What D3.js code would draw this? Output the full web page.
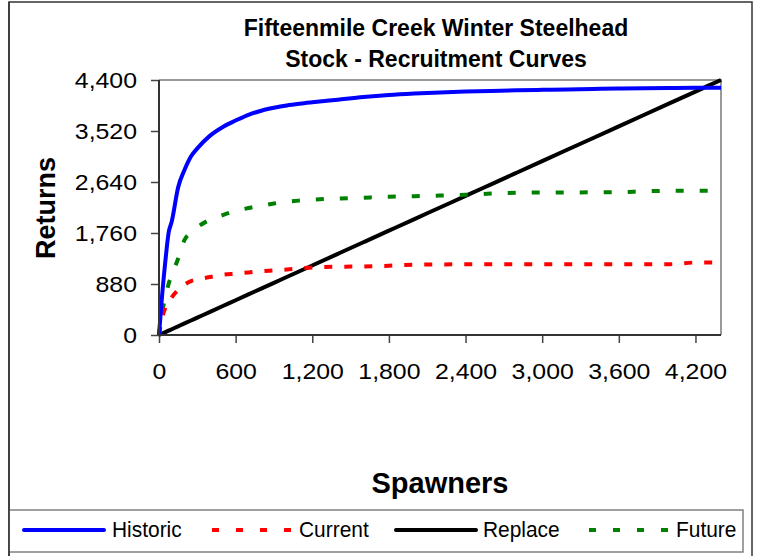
<!DOCTYPE html>
<html>
<head>
<meta charset="utf-8">
<script src="https://cdn.jsdelivr.net/npm/d3@7"></script>
<style>
  html, body { margin: 0; padding: 0; background: #fff; }
  svg { display: block; font-family: "Liberation Sans", Arial, sans-serif; }
</style>
</head>
<body>
<svg id="chart" width="758" height="556"></svg>
<script>
// ---- data ----
const spawners = [0, 25, 50, 75, 100, 150, 200, 250, 300, 400, 500, 600, 700, 800, 900, 1000, 1100, 1200, 1400, 1600, 1800, 2000, 2200, 2400, 2600, 2800, 3000, 3200, 3400, 3600, 3800, 4000, 4200, 4400];
const historic = [0, 700, 1280, 1760, 1960, 2550, 2850, 3080, 3220, 3440, 3590, 3700, 3800, 3870, 3920, 3960, 3990, 4015, 4060, 4105, 4140, 4165, 4185, 4200, 4212, 4222, 4230, 4238, 4245, 4252, 4258, 4263, 4266, 4268];
const current  = [0, 300, 470, 560, 650, 780, 870, 930, 960, 1000, 1040, 1060, 1080, 1100, 1115, 1130, 1148, 1165, 1178, 1182, 1195, 1212, 1218, 1220, 1220, 1220, 1220, 1220, 1220, 1220, 1220, 1222, 1250, 1250];
const replace  = [0, 25, 50, 75, 100, 150, 200, 250, 300, 400, 500, 600, 700, 800, 900, 1000, 1100, 1200, 1400, 1600, 1800, 2000, 2200, 2400, 2600, 2800, 3000, 3200, 3400, 3600, 3800, 4000, 4200, 4400];
const future   = [0, 400, 650, 880, 1030, 1320, 1640, 1770, 1860, 1990, 2070, 2140, 2190, 2230, 2270, 2300, 2320, 2335, 2355, 2370, 2385, 2395, 2405, 2420, 2440, 2455, 2458, 2460, 2462, 2465, 2480, 2488, 2490, 2490];

const seriesNames  = ["Historic", "Current", "Replace", "Future"];
const seriesValues = [historic, current, replace, future];
const seriesColors = ["#0000FF", "#FF0000", "#000000", "#008000"];
const seriesDash   = [null, "8,12", null, "8,16"];
const legendDash   = [null, "7,17", null, "7,17"];

const xTicks = [0, 600, 1200, 1800, 2400, 3000, 3600, 4200];
const yTicks = [0, 880, 1760, 2640, 3520, 4400];
const titleLines = ["Fifteenmile Creek Winter Steelhead", "Stock - Recruitment Curves"];
const xTitle = "Spawners";
const yTitle = "Returns";

// ---- layout ----
const svg = d3.select("#chart");
const plot = { left: 159, right: 721, top: 80, bottom: 335 };
const x = d3.scaleLinear().domain([0, 4400]).range([plot.left, plot.right]);
const y = d3.scaleLinear().domain([0, 4400]).range([plot.bottom, plot.top]);
const fmt = d3.format(",");

function stretch(sel, f) {
  sel.each(function () {
    const w = this.getComputedTextLength();
    this.setAttribute("textLength", (w * f).toFixed(1));
    this.setAttribute("lengthAdjust", "spacingAndGlyphs");
  });
}

svg.append("rect").attr("width", 758).attr("height", 556).attr("fill", "#fff");

// outer chart frame
svg.append("rect")
  .attr("x", 9).attr("y", 2).attr("width", 743).attr("height", 620)
  .attr("fill", "none").attr("stroke", "#333").attr("stroke-width", 1.5);

// title
const tl = svg.append("g").attr("font-weight", "bold").attr("font-size", 23).attr("text-anchor", "middle").attr("fill", "#000");
tl.selectAll("text").data(titleLines).join("text")
  .attr("x", 436).attr("y", (d, i) => 36 + i * 31).text(d => d);

// plot area border (top/right in gray)
svg.append("path")
  .attr("d", `M${plot.left},${plot.top}H${plot.right}V${plot.bottom}`)
  .attr("fill", "none").attr("stroke", "#999").attr("stroke-width", 2);

// axes
const yAxis = d3.axisLeft(y).tickValues(yTicks).tickFormat(fmt).tickSize(8).tickPadding(14);
const gy = svg.append("g").attr("transform", `translate(${plot.left},0)`).call(yAxis);
const xAxis = d3.axisBottom(x).tickValues(xTicks).tickFormat(fmt).tickSize(8).tickPadding(20);
const gx = svg.append("g").attr("transform", `translate(0,${plot.bottom})`).call(xAxis);
[gx, gy].forEach(g => {
  g.select(".domain").remove();
  g.selectAll(".tick line").attr("stroke", "#444").attr("stroke-width", 1.5);
  g.selectAll(".tick text").attr("font-size", 22).attr("fill", "#000")
    .attr("font-family", "'Liberation Sans', Arial, sans-serif");
});
gy.selectAll(".tick text").attr("dy", "0.36em");
gx.selectAll(".tick text").attr("dy", "0.72em");
stretch(gy.selectAll(".tick text"), 1.13);
stretch(gx.selectAll(".tick text"), 1.13);

// data lines
const clip = svg.append("clipPath").attr("id", "clip").append("rect")
  .attr("x", plot.left).attr("y", plot.top - 4).attr("width", plot.right - plot.left + 4).attr("height", plot.bottom - plot.top + 4);
const lineGen = vals => d3.line()
  .x((d, i) => x(spawners[i]))
  .y(d => y(d))
  .curve(d3.curveMonotoneX)(vals);
const order = [2, 3, 1, 0];
svg.append("g").selectAll("path").data(order).join("path")
  .attr("d", i => lineGen(seriesValues[i]))
  .attr("fill", "none")
  .attr("stroke", i => seriesColors[i])
  .attr("stroke-width", 4)
  .attr("stroke-dasharray", i => seriesDash[i])
  .attr("stroke-linejoin", "round");

// axis lines (dark)
svg.append("path")
  .attr("d", `M${plot.left},${plot.top}V${plot.bottom}H${plot.right}`)
  .attr("fill", "none").attr("stroke", "#333").attr("stroke-width", 2);

// axis titles
svg.append("text").attr("x", 440).attr("y", 493).attr("text-anchor", "middle")
  .attr("font-weight", "bold").attr("font-size", 29).attr("fill", "#000").text(xTitle);
svg.append("text").attr("transform", "translate(55,208) rotate(-90)").attr("text-anchor", "middle")
  .attr("font-weight", "bold").attr("font-size", 27).attr("fill", "#000").text(yTitle);

// legend
const lg = svg.append("g");
lg.append("rect").attr("x", 9).attr("y", 510).attr("width", 734).attr("height", 42)
  .attr("fill", "#fff").attr("stroke", "#808080").attr("stroke-width", 1.5);
const legendX = [24, 212, 396, 589];
const textX = [112, 299, 483, 676];
const items = lg.selectAll("g.item").data(seriesNames).join("g").attr("class", "item");
items.append("line")
  .attr("x1", (d, i) => legendX[i]).attr("x2", (d, i) => legendX[i] + 80)
  .attr("y1", 530).attr("y2", 530)
  .attr("stroke", (d, i) => seriesColors[i]).attr("stroke-width", 4)
  .attr("stroke-dasharray", (d, i) => legendDash[i])
  .attr("stroke-linecap", (d, i) => legendDash[i] ? "butt" : "round");
const lt = items.append("text")
  .attr("x", (d, i) => textX[i]).attr("y", 537)
  .attr("font-size", 22).attr("fill", "#000").text(d => d);
stretch(lt, 0.95);
// redraw frame's left edge over legend
svg.append("line").attr("x1", 9).attr("x2", 9).attr("y1", 2).attr("y2", 556)
  .attr("stroke", "#333").attr("stroke-width", 1.5);
</script>
</body>
</html>
